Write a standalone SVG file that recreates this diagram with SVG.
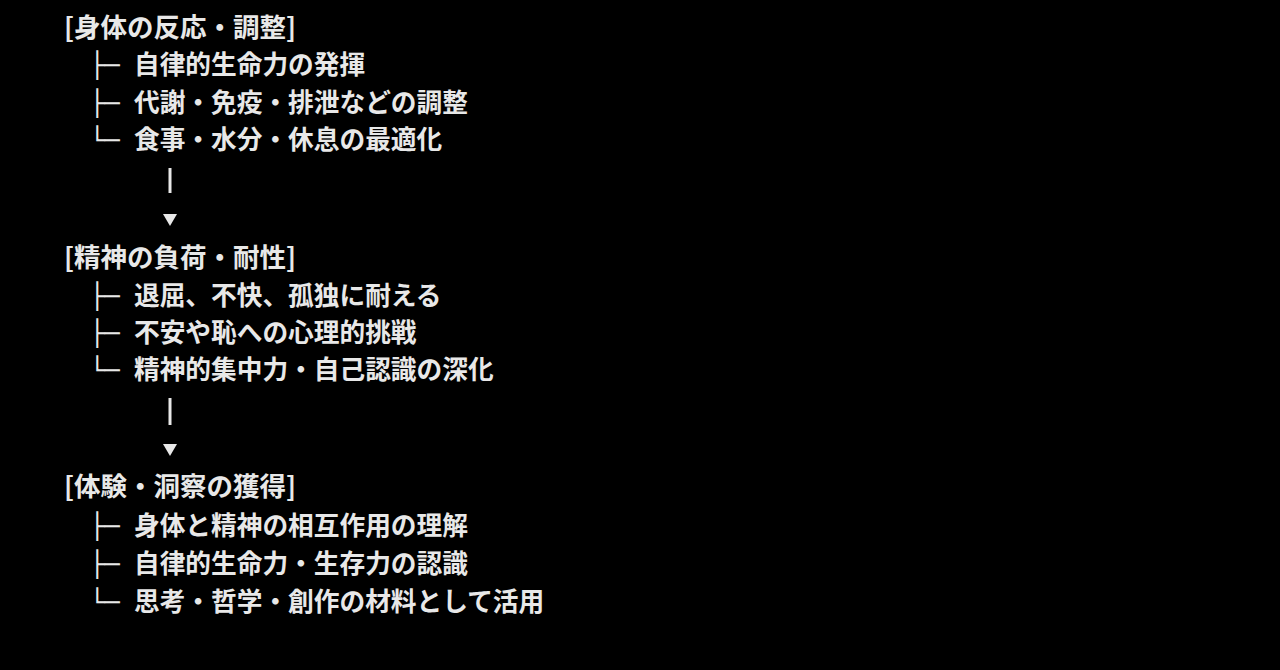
<svg xmlns="http://www.w3.org/2000/svg" width="1280" height="670" viewBox="0 0 1280 670">
<style>
.h{font-family:"Noto Sans CJK JP","Noto Sans CJK SC",sans-serif;font-size:26.5px;font-weight:700;fill:#e8e8e8}
.t{font-family:"Noto Sans CJK JP","Noto Sans CJK SC",sans-serif;font-size:25.7px;font-weight:700;fill:#e8e8e8}
.b{font-family:"DejaVu Sans Mono",monospace;font-size:25px;font-weight:700;fill:#e8e8e8}
.conn{stroke:#e8e8e8;stroke-width:3;fill:none}
.ah{fill:#e8e8e8}
</style>
<rect width="1280" height="670" fill="#000"/>
<g id="body-response">
<text class="h" x="64" y="37">[身体の反応・調整]</text>
<text class="b" x="89.5" y="74">├─</text><text class="t" x="134" y="74">自律的生命力の発揮</text>
<text class="b" x="89.5" y="112">├─</text><text class="t" x="134" y="112">代謝・免疫・排泄などの調整</text>
<text class="b" x="89.5" y="149">└─</text><text class="t" x="134" y="149">食事・水分・休息の最適化</text>
</g>
<g id="mental-load">
<text class="h" x="64" y="267">[精神の負荷・耐性]</text>
<text class="b" x="89.5" y="305">├─</text><text class="t" x="134" y="305">退屈、不快、孤独に耐える</text>
<text class="b" x="89.5" y="342">├─</text><text class="t" x="134" y="342">不安や恥への心理的挑戦</text>
<text class="b" x="89.5" y="379">└─</text><text class="t" x="134" y="379">精神的集中力・自己認識の深化</text>
</g>
<g id="experience-insight">
<text class="h" x="64" y="496">[体験・洞察の獲得]</text>
<text class="b" x="89.5" y="535">├─</text><text class="t" x="134" y="535">身体と精神の相互作用の理解</text>
<text class="b" x="89.5" y="573">├─</text><text class="t" x="134" y="573">自律的生命力・生存力の認識</text>
<text class="b" x="89.5" y="611">└─</text><text class="t" x="134" y="611">思考・哲学・創作の材料として活用</text>
</g>
<g id="connectors">
<line class="conn" x1="170" y1="168" x2="170" y2="193"/>
<polygon class="ah" points="163,214 177,214 170,226"/>
<line class="conn" x1="170" y1="398" x2="170" y2="425"/>
<polygon class="ah" points="163,444 177,444 170,456"/>
</g>
</svg>
